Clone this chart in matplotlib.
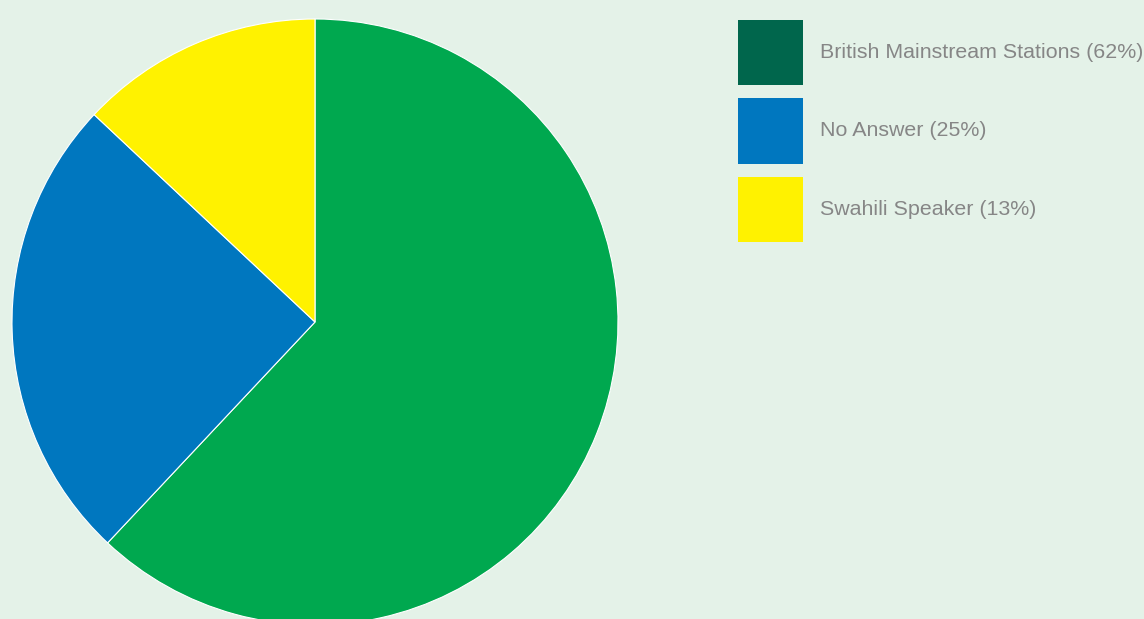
import matplotlib.pyplot as plt
from matplotlib.patches import Rectangle

labels = ['British Mainstream Stations', 'No Answer', 'Swahili Speaker']
shares = [62, 25, 13]
pie_colors = ['#00a84f', '#0077bf', '#fff200']
legend_colors = ['#00664c', '#0077bf', '#fff200']
bg = '#e4f2e8'

W, H = 1144, 619
fig = plt.figure(figsize=(W / 100, H / 100), dpi=100, facecolor=bg)

# pie centred at (315, 322) px with radius 303
cx, cy, r = 315, 322, 303
ax = fig.add_axes([(cx - r) / W, (H - cy - r) / H, 2 * r / W, 2 * r / H])
ax.set_facecolor(bg)
ax.pie(shares, colors=pie_colors, startangle=90, counterclock=False,
       wedgeprops=dict(edgecolor='white', linewidth=0.8))
ax.set_xlim(-1, 1)
ax.set_ylim(-1, 1)
ax.set_aspect('equal')
ax.axis('off')

# legend: swatches and labels
for i, (lab, val, col) in enumerate(zip(labels, shares, legend_colors)):
    top = 20 + i * 78.5
    fig.patches.append(Rectangle((738 / W, (H - top - 65) / H), 65 / W, 65 / H,
                                 transform=fig.transFigure, facecolor=col,
                                 edgecolor='none'))
    fig.text(820 / W, (H - top - 32.5) / H, f'{lab} ({val}%)',
             fontsize=15.4, family='Liberation Sans', color='#868686',
             va='center', ha='left')

fig.savefig('out.png', dpi=100, facecolor=bg)
